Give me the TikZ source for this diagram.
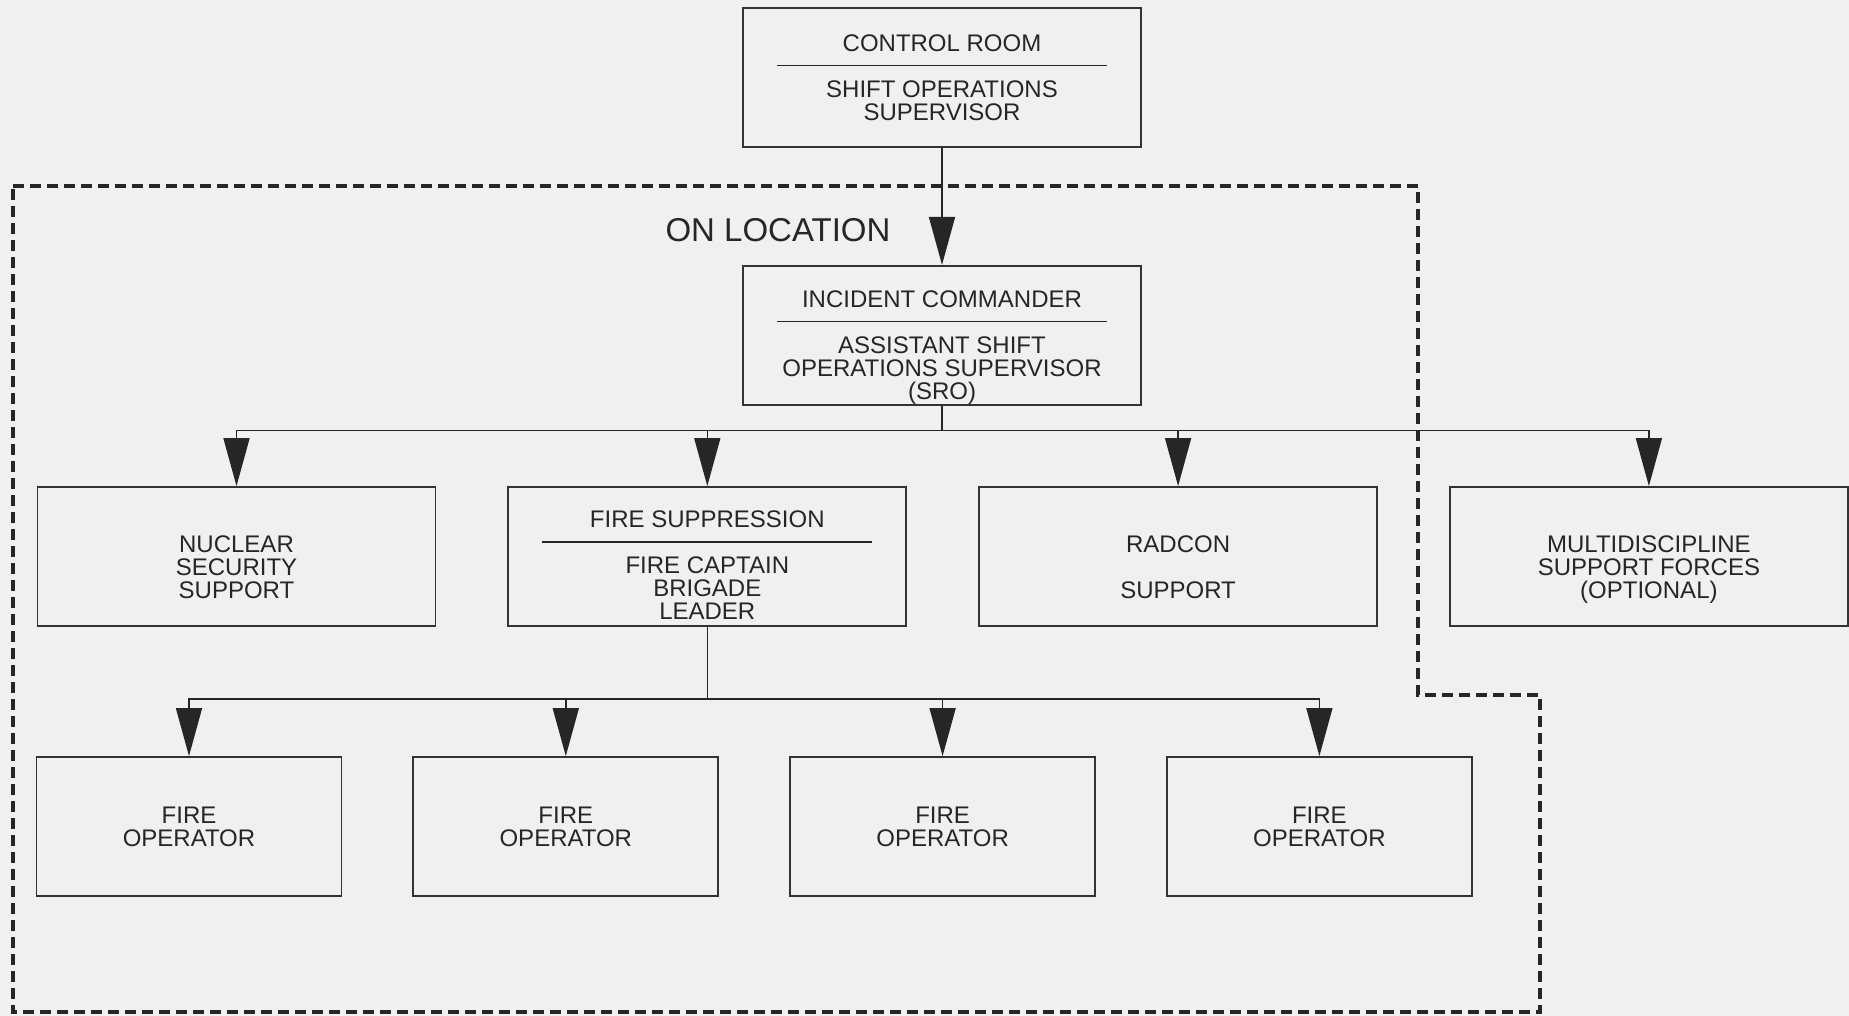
\documentclass[tikz,border=0pt]{standalone}
\usepackage{fontspec}
\setmainfont{Liberation Sans}
\usepackage{tikz}
\usetikzlibrary{positioning, arrows.meta}
\tikzset{>={Triangle[width=13pt,length=24pt]},
orgbox/.style={draw=black!80, line width=0.9pt, text=black!85, align=center,
  minimum width=199pt, minimum height=69.5pt, inner sep=0pt,
  font=\fontsize{12}{11.5}\selectfont},
lowtext/.style={text height=#1, text depth=0pt},
crewbox/.style={orgbox, minimum width=152.5pt},
wire/.style={draw=black!85, line width=0.8pt},
zone/.style={draw=black!85, line width=1.6pt, dash pattern=on 5.5pt off 3pt}}
\newcommand{\divrule}{\rule[4pt]{165pt}{0.8pt}}

\begin{document}
\begin{tikzpicture}[x=0.5pt,y=-0.5pt]
\fill[black!6] (0,0) rectangle (1849,1016);
\useasboundingbox (0,0) rectangle (1849,1016);
%\draw[help lines] (0,0) grid[step=100] (1849,1016);
\draw[zone] (13,186) -- (1418,186) -- (1418,695) -- (1540,695) -- (1540,1012) -- (13,1012) -- cycle;
\node[font=\fontsize{16.5}{20}\selectfont, text=black!85, inner sep=0pt] (onloc) at (778,230) {ON LOCATION};
\node[orgbox] (cr) at (942,77.5) {CONTROL ROOM\\\divrule\\SHIFT OPERATIONS\\SUPERVISOR};
\node[orgbox,below=58.5pt of cr,lowtext=64.1pt] (ic) {INCIDENT COMMANDER\\\divrule\\ASSISTANT SHIFT\\OPERATIONS SUPERVISOR\\(SRO)};
\node[orgbox,lowtext=41.6pt] (nuc) at (236.5,556.5) {NUCLEAR\\SECURITY\\SUPPORT};
\node[orgbox,right=35.5pt of nuc,lowtext=63.1pt] (fs) {FIRE SUPPRESSION\\\divrule\\FIRE CAPTAIN\\BRIGADE\\LEADER};
\node[orgbox,right=35.5pt of fs,lowtext=41.6pt] (rad) {RADCON\\[11.5pt]SUPPORT};
\node[orgbox,right=35.5pt of rad,lowtext=41.6pt] (multi) {MULTIDISCIPLINE\\SUPPORT FORCES\\(OPTIONAL)};
\node[crewbox] (op1) at (189,826.5) {FIRE\\OPERATOR};
\node[crewbox,right=35pt of op1] (op2) {FIRE\\OPERATOR};
\node[crewbox,right=35pt of op2] (op3) {FIRE\\OPERATOR};
\node[crewbox,right=35pt of op3] (op4) {FIRE\\OPERATOR};
\coordinate[below=12.5pt of ic] (icbus);
\coordinate[below=36pt of fs] (fsbus);
\draw[wire,->] (cr) -- (ic);
\draw[wire] (ic) -- (icbus);
\draw[wire,->] (icbus) -| (nuc);
\draw[wire,->] (icbus) -| (fs);
\draw[wire,->] (icbus) -| (rad);
\draw[wire,->] (icbus) -| (multi);
\draw[wire] (fs) -- (fsbus);
\draw[wire,->] (fsbus) -| (op1);
\draw[wire,->] (fsbus) -| (op2);
\draw[wire,->] (fsbus) -| (op3);
\draw[wire,->] (fsbus) -| (op4);
\end{tikzpicture}
\end{document}
